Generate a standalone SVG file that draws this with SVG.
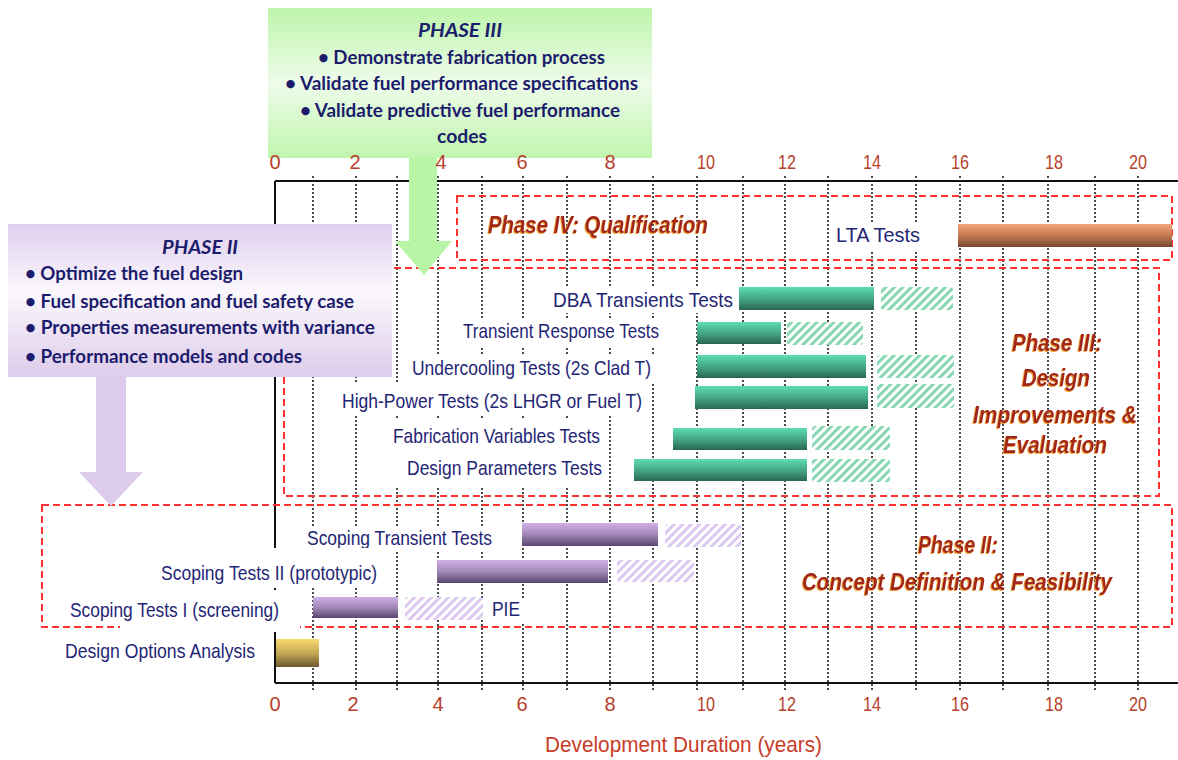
<svg xmlns="http://www.w3.org/2000/svg" width="1178" height="760" viewBox="0 0 1178 760">
<defs>
<style>
.grid{stroke:#111;stroke-width:1.5;stroke-dasharray:2 2;fill:none}
.frame{stroke:#111;stroke-width:2;fill:none}
.phasebox{fill:none;stroke:#ff3030;stroke-width:2;stroke-dasharray:7 4}
.wbox{fill:#fff}
.lbl{font-family:"Liberation Sans",Arial,sans-serif;font-size:21px;fill:#1f2676}
.num{font-family:"Liberation Sans",Arial,sans-serif;font-size:20px;fill:#b8402a;text-anchor:middle}
.ph{font-family:"Liberation Sans",Arial,sans-serif;font-size:23px;font-weight:bold;font-style:italic;fill:#a3261b;filter:url(#sh)}
.cal{font-family:Lato,"Open Sans",sans-serif;font-size:19px;font-weight:bold;fill:#1c1c6c}
.calh{font-family:Lato,"Open Sans",sans-serif;font-size:19px;font-style:italic;font-weight:bold;fill:#1c1c6c}
.title{font-family:"Liberation Sans",Arial,sans-serif;font-size:22px;fill:#c83c28}
</style>
<linearGradient id="gTeal" x1="0" y1="0" x2="0" y2="1"><stop offset="0" stop-color="#5edcb3"/><stop offset="0.5" stop-color="#45a888"/><stop offset="1" stop-color="#2a6652"/></linearGradient>
<linearGradient id="gPur" x1="0" y1="0" x2="0" y2="1"><stop offset="0" stop-color="#d0afe8"/><stop offset="0.5" stop-color="#a288b8"/><stop offset="1" stop-color="#5a4670"/></linearGradient>
<linearGradient id="gGold" x1="0" y1="0" x2="0" y2="1"><stop offset="0" stop-color="#f8da70"/><stop offset="0.5" stop-color="#c6a854"/><stop offset="1" stop-color="#6a5830"/></linearGradient>
<linearGradient id="gOr" x1="0" y1="0" x2="0" y2="1"><stop offset="0" stop-color="#f4a278"/><stop offset="0.5" stop-color="#c27a52"/><stop offset="1" stop-color="#7a4830"/></linearGradient>
<linearGradient id="gGreenBox" x1="0" y1="0" x2="0" y2="1"><stop offset="0" stop-color="#bcf5aa"/><stop offset="0.5" stop-color="#eefcea"/><stop offset="1" stop-color="#c0f5ae"/></linearGradient>
<linearGradient id="gPurBox" x1="0" y1="0" x2="0" y2="1"><stop offset="0" stop-color="#e0cfee"/><stop offset="0.45" stop-color="#fbf8fd"/><stop offset="1" stop-color="#ddcbea"/></linearGradient>
<pattern id="hG" patternUnits="userSpaceOnUse" width="6" height="6" patternTransform="rotate(45)"><rect width="6" height="6" fill="#fff"/><rect width="3" height="6" fill="#86d8b3"/></pattern>
<pattern id="hP" patternUnits="userSpaceOnUse" width="6" height="6" patternTransform="rotate(45)"><rect width="6" height="6" fill="#fff"/><rect width="3" height="6" fill="#dcc8f0"/></pattern>
<filter id="sh" x="-5%" y="-20%" width="110%" height="140%"><feDropShadow dx="-1" dy="1" stdDeviation="0.4" flood-color="#f0a030"/></filter>
</defs>
<rect width="1178" height="760" fill="#fff"/>

<g id="grid">
<line class="grid" x1="313" y1="176" x2="313" y2="690"/>
<line class="grid" x1="356" y1="176" x2="356" y2="690"/>
<line class="grid" x1="397" y1="176" x2="397" y2="690"/>
<line class="grid" x1="438" y1="176" x2="438" y2="690"/>
<line class="grid" x1="482" y1="176" x2="482" y2="690"/>
<line class="grid" x1="523" y1="176" x2="523" y2="690"/>
<line class="grid" x1="567" y1="176" x2="567" y2="690"/>
<line class="grid" x1="610" y1="176" x2="610" y2="690"/>
<line class="grid" x1="653" y1="176" x2="653" y2="690"/>
<line class="grid" x1="697" y1="176" x2="697" y2="690"/>
<line class="grid" x1="743" y1="176" x2="743" y2="690"/>
<line class="grid" x1="785" y1="176" x2="785" y2="690"/>
<line class="grid" x1="828" y1="176" x2="828" y2="690"/>
<line class="grid" x1="872" y1="176" x2="872" y2="690"/>
<line class="grid" x1="916" y1="176" x2="916" y2="690"/>
<line class="grid" x1="960" y1="176" x2="960" y2="690"/>
<line class="grid" x1="1003" y1="176" x2="1003" y2="690"/>
<line class="grid" x1="1048" y1="176" x2="1048" y2="690"/>
<line class="grid" x1="1095" y1="176" x2="1095" y2="690"/>
<line class="grid" x1="1138" y1="176" x2="1138" y2="690"/>
</g>

<g id="frame">
<line class="frame" x1="275" y1="181" x2="1178" y2="181"/>
<line class="frame" x1="275" y1="181" x2="275" y2="683"/>
<line class="frame" x1="275" y1="683" x2="1178" y2="683"/>
</g>

<g id="phase4-box"><rect class="phasebox" x="457" y="196" width="715" height="64"/></g>
<g id="phase3-box"><rect class="phasebox" x="284" y="268" width="875" height="228"/></g>
<g id="phase2-box"><rect class="phasebox" x="42" y="505" width="1130" height="122"/></g>

<g id="lta">
<rect class="wbox" x="830" y="222" width="95" height="30"/>
<text class="lbl" x="836" y="242" textLength="84" lengthAdjust="spacingAndGlyphs">LTA Tests</text>
<rect x="958" y="224" width="214" height="23" fill="url(#gOr)"/>
</g>

<g id="dba">
<rect class="wbox" x="546" y="287" width="190" height="26"/>
<text class="lbl" x="553" y="307" textLength="180" lengthAdjust="spacingAndGlyphs">DBA Transients Tests</text>
<rect x="739" y="287" width="135" height="23" fill="url(#gTeal)"/>
<rect x="881" y="287" width="72" height="23" rx="3" fill="url(#hG)"/>
</g>
<g id="transient-response">
<rect class="wbox" x="456" y="320" width="210" height="26"/>
<text class="lbl" x="463" y="338" textLength="196" lengthAdjust="spacingAndGlyphs">Transient Response Tests</text>
<rect x="697" y="322" width="84" height="22" fill="url(#gTeal)"/>
<rect x="787" y="322" width="76" height="23" rx="3" fill="url(#hG)"/>
</g>
<g id="undercooling">
<rect class="wbox" x="405" y="355" width="250" height="27"/>
<text class="lbl" x="412" y="375" textLength="239" lengthAdjust="spacingAndGlyphs">Undercooling Tests (2s Clad T)</text>
<rect x="697" y="355" width="169" height="23" fill="url(#gTeal)"/>
<rect x="877" y="355" width="77" height="23" rx="3" fill="url(#hG)"/>
</g>
<g id="high-power">
<rect class="wbox" x="336" y="382" width="312" height="34"/>
<text class="lbl" x="342" y="408" textLength="300" lengthAdjust="spacingAndGlyphs">High-Power Tests (2s LHGR or Fuel T)</text>
<rect x="695" y="386" width="173" height="23" fill="url(#gTeal)"/>
<rect x="877" y="384" width="77" height="24" rx="3" fill="url(#hG)"/>
</g>
<g id="fabrication">
<rect class="wbox" x="385" y="418" width="219" height="32"/>
<text class="lbl" x="393" y="443" textLength="207" lengthAdjust="spacingAndGlyphs">Fabrication Variables Tests</text>
<rect x="673" y="428" width="134" height="22" fill="url(#gTeal)"/>
<rect x="812" y="426" width="78" height="24" rx="3" fill="url(#hG)"/>
</g>
<g id="design-parameters">
<rect class="wbox" x="385" y="450" width="221" height="36"/>
<text class="lbl" x="407" y="475" textLength="195" lengthAdjust="spacingAndGlyphs">Design Parameters Tests</text>
<rect x="634" y="459" width="173" height="22" fill="url(#gTeal)"/>
<rect x="812" y="459" width="78" height="23" rx="3" fill="url(#hG)"/>
</g>

<g id="scoping-transient">
<rect class="wbox" x="300" y="526" width="196" height="26"/>
<text class="lbl" x="307" y="545" textLength="185" lengthAdjust="spacingAndGlyphs">Scoping Transient Tests</text>
<rect x="522" y="523" width="136" height="23" fill="url(#gPur)"/>
<rect x="665" y="524" width="76" height="23" rx="3" fill="url(#hP)"/>
</g>
<g id="scoping-2">
<rect class="wbox" x="155" y="548" width="226" height="40"/>
<text class="lbl" x="161" y="580" textLength="216" lengthAdjust="spacingAndGlyphs">Scoping Tests II (prototypic)</text>
<rect x="437" y="560" width="171" height="23" fill="url(#gPur)"/>
<rect x="617" y="560" width="77" height="22" rx="3" fill="url(#hP)"/>
</g>
<g id="scoping-1">
<rect class="wbox" x="120" y="590" width="180" height="42"/>
<text class="lbl" x="70" y="617" textLength="209" lengthAdjust="spacingAndGlyphs">Scoping Tests I (screening)</text>
<rect x="313" y="597" width="85" height="21" fill="url(#gPur)"/>
<rect x="405" y="597" width="78" height="23" rx="3" fill="url(#hP)"/>
<rect class="wbox" x="488" y="598" width="36" height="24"/>
<text class="lbl" x="492" y="616" textLength="28" lengthAdjust="spacingAndGlyphs">PIE</text>
</g>
<g id="design-options">
<rect class="wbox" x="60" y="638" width="200" height="28"/>
<text class="lbl" x="65" y="658" textLength="190" lengthAdjust="spacingAndGlyphs">Design Options Analysis</text>
<rect x="276" y="639" width="43" height="28" fill="url(#gGold)"/>
</g>

<g id="phase-labels">
<text class="ph" x="488" y="233" textLength="220" lengthAdjust="spacingAndGlyphs">Phase IV: Qualification</text>
<text class="ph" x="1012" y="351" textLength="90" lengthAdjust="spacingAndGlyphs">Phase III:</text>
<text class="ph" x="1022" y="386" textLength="68" lengthAdjust="spacingAndGlyphs">Design</text>
<text class="ph" x="973" y="423" textLength="164" lengthAdjust="spacingAndGlyphs">Improvements &amp;</text>
<text class="ph" x="1003" y="453" textLength="104" lengthAdjust="spacingAndGlyphs">Evaluation</text>
<text class="ph" x="918" y="553" textLength="80" lengthAdjust="spacingAndGlyphs">Phase II:</text>
<text class="ph" x="802" y="590" textLength="310" lengthAdjust="spacingAndGlyphs">Concept Definition &amp; Feasibility</text>
</g>

<g id="phase3-note">
<rect x="268" y="8" width="384" height="150" fill="url(#gGreenBox)"/>
<text class="calh" x="418" y="37" textLength="84" lengthAdjust="spacingAndGlyphs">PHASE III</text>
<text class="cal" x="318" y="64" textLength="287" lengthAdjust="spacingAndGlyphs">• Demonstrate fabrication process</text>
<text class="cal" x="285" y="90" textLength="353" lengthAdjust="spacingAndGlyphs">• Validate fuel performance specifications</text>
<text class="cal" x="300" y="117" textLength="320" lengthAdjust="spacingAndGlyphs">• Validate predictive fuel performance</text>
<text class="cal" x="437" y="143" textLength="50" lengthAdjust="spacingAndGlyphs">codes</text>
</g>

<g id="phase2-note">
<rect x="8" y="224" width="384" height="153" fill="url(#gPurBox)"/>
<text class="calh" x="162" y="254" textLength="76" lengthAdjust="spacingAndGlyphs">PHASE II</text>
<text class="cal" x="25" y="280" textLength="218" lengthAdjust="spacingAndGlyphs">• Optimize the fuel design</text>
<text class="cal" x="25" y="308" textLength="329" lengthAdjust="spacingAndGlyphs">• Fuel specification and fuel safety case</text>
<text class="cal" x="25" y="334" textLength="350" lengthAdjust="spacingAndGlyphs">• Properties measurements with variance</text>
<text class="cal" x="25" y="363" textLength="277" lengthAdjust="spacingAndGlyphs">• Performance models and codes</text>
</g>

<g id="connectors">
<polygon points="409,157 437,157 437,241 452,241 424,275 395,241 409,241" fill="#b9f5a6"/>
<polygon points="96,377 126,377 126,472 143,472 111,506 79,472 96,472" fill="#dccbed"/>
</g>

<g id="axis-top">
<text class="num" x="275" y="169">0</text>
<text class="num" x="355" y="169">2</text>
<text class="num" x="441" y="169">4</text>
<text class="num" x="522" y="169">6</text>
<text class="num" x="610" y="169">8</text>
<text class="num" x="706" y="169" textLength="18" lengthAdjust="spacingAndGlyphs">10</text>
<text class="num" x="787" y="169" textLength="18" lengthAdjust="spacingAndGlyphs">12</text>
<text class="num" x="872" y="169" textLength="18" lengthAdjust="spacingAndGlyphs">14</text>
<text class="num" x="960" y="169" textLength="18" lengthAdjust="spacingAndGlyphs">16</text>
<text class="num" x="1054" y="169" textLength="18" lengthAdjust="spacingAndGlyphs">18</text>
<text class="num" x="1138" y="169" textLength="18" lengthAdjust="spacingAndGlyphs">20</text>
</g>
<g id="axis-bottom">
<text class="num" x="275" y="711">0</text>
<text class="num" x="353" y="711">2</text>
<text class="num" x="438" y="711">4</text>
<text class="num" x="522" y="711">6</text>
<text class="num" x="610" y="711">8</text>
<text class="num" x="706" y="711" textLength="18" lengthAdjust="spacingAndGlyphs">10</text>
<text class="num" x="787" y="711" textLength="18" lengthAdjust="spacingAndGlyphs">12</text>
<text class="num" x="872" y="711" textLength="18" lengthAdjust="spacingAndGlyphs">14</text>
<text class="num" x="960" y="711" textLength="18" lengthAdjust="spacingAndGlyphs">16</text>
<text class="num" x="1054" y="711" textLength="18" lengthAdjust="spacingAndGlyphs">18</text>
<text class="num" x="1138" y="711" textLength="18" lengthAdjust="spacingAndGlyphs">20</text>
<text class="title" x="545" y="752" textLength="277" lengthAdjust="spacingAndGlyphs">Development Duration (years)</text>
</g>
</svg>
